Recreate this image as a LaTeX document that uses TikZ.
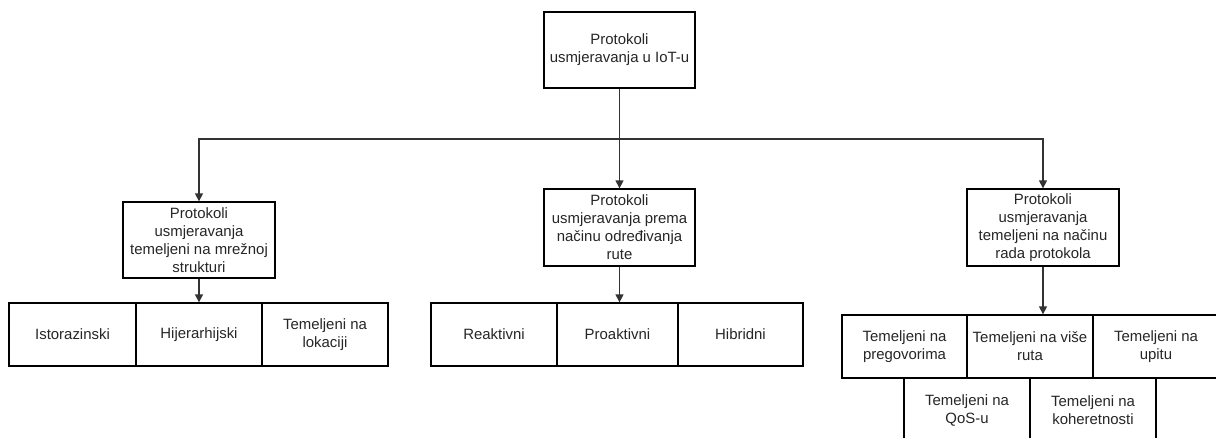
\documentclass[tikz,border=0pt]{standalone}
\usepackage{fontspec}
\setmainfont{Liberation Sans}
\usetikzlibrary{arrows.meta}
\begin{document}
\begin{tikzpicture}[x=0.75pt,y=-0.75pt,
  box/.style={draw=black, line width=1pt, fill=white, align=center, inner sep=0pt,
    font=\fontsize{11.2pt}{13.5pt}\selectfont, text=black!85},
  conn/.style={draw=black!80, line width=1pt, -{Triangle[length=6pt,width=6pt]}},
  line/.style={draw=black!70, line width=1pt}]
\useasboundingbox (0,0) rectangle (1216,437);
\fill[white] (0,0) rectangle (1216,437);
% main boxes
\node[box, minimum width=113.25pt, minimum height=57pt] (top) at (619.5,50) {Protokoli\\usmjeravanja u IoT-u};
\node[box, minimum width=113.25pt, minimum height=57.75pt] (mid) at (619.5,227.5) {Protokoli\\usmjeravanja prema\\načinu određivanja\\rute};
\node[box, minimum width=114pt, minimum height=57pt] (lft) at (199,240) {Protokoli\\usmjeravanja\\temeljeni na mrežnoj\\strukturi};
\node[box, minimum width=114pt, minimum height=57.75pt] (rgt) at (1043,227.5) {Protokoli\\usmjeravanja\\temeljeni na načinu\\rada protokola};
% left row
\node[box, minimum width=95.25pt, minimum height=47.25pt] (l1) at (72.5,334.5) {Istorazinski};
\node[box, minimum width=94.5pt, minimum height=47.25pt] (l2) at (199,334.5) {Hijerarhijski};
\node[box, minimum width=94.5pt, minimum height=47.25pt] (l3) at (325,334.5) {Temeljeni na\\lokaciji};
% middle row
\node[box, minimum width=94.5pt, minimum height=47.25pt] (m1) at (494,334.5) {Reaktivni};
\node[box, minimum width=90.75pt, minimum height=47.25pt] (m2) at (617.5,334.5) {Proaktivni};
\node[box, minimum width=93.75pt, minimum height=47.25pt] (m3) at (740.5,334.5) {Hibridni};
% right rows
\node[box, minimum width=93.75pt, minimum height=47.25pt] (r1) at (904.5,346.5) {Temeljeni na\\pregovorima};
\node[box, minimum width=94.5pt, minimum height=47.25pt] (r2) at (1030,346.5) {Temeljeni na više\\ruta};
\node[box, minimum width=94.5pt, minimum height=47.25pt] (r3) at (1156,346.5) {Temeljeni na\\upitu};
\node[box, minimum width=94.5pt, minimum height=48pt] (r4) at (967,410) {Temeljeni na\\QoS-u};
\node[box, minimum width=94.5pt, minimum height=48pt] (r5) at (1093,410) {Temeljeni na\\koheretnosti};
% connectors
\coordinate (j) at (619.5,139);
\draw[conn] (top.south) -- (mid.north);
\draw[conn] (j) -| (lft.north);
\draw[conn] (j) -| (rgt.north);
\draw[conn] (lft.south) -- (l2.north);
\draw[conn] (mid.south) -- (mid.south |- m2.north);
\draw[conn] (rgt.south) -- (rgt.south |- r2.north);
\end{tikzpicture}
\end{document}
